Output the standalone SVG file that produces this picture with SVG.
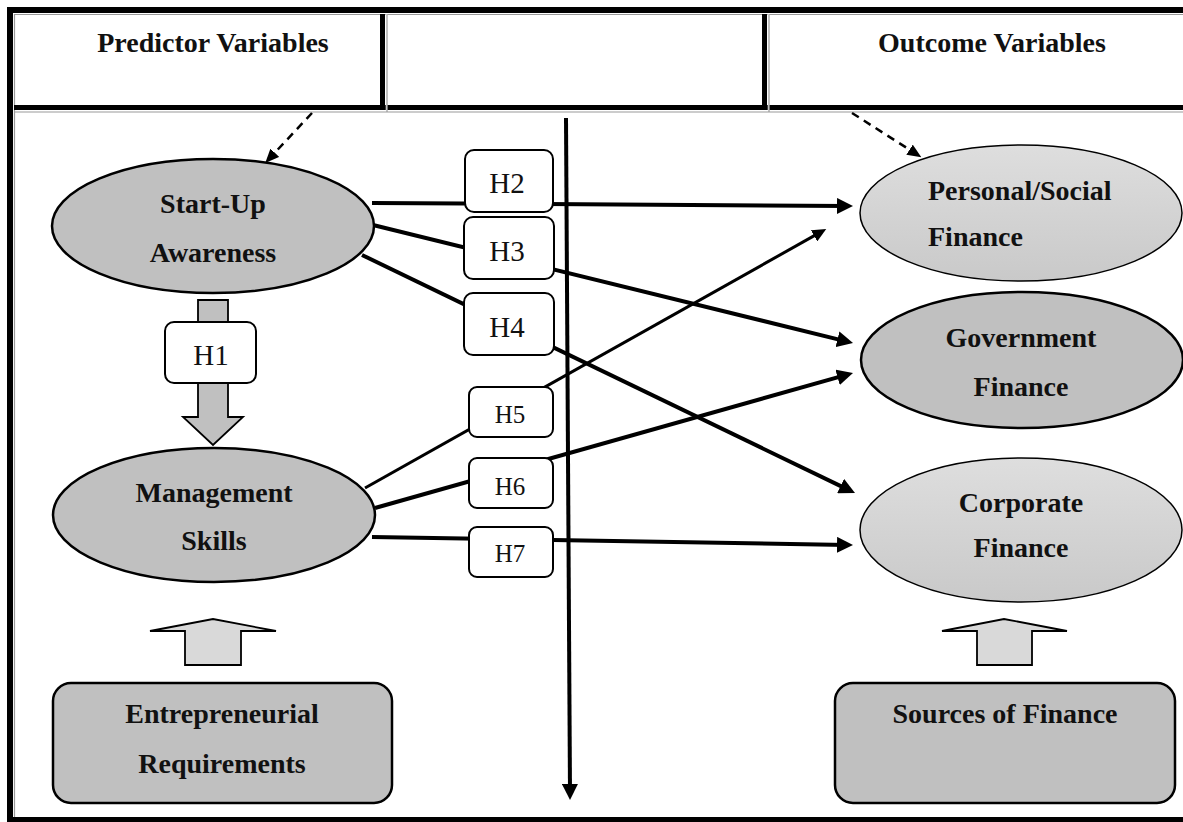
<svg xmlns="http://www.w3.org/2000/svg" width="1183" height="822" viewBox="0 0 1183 822">
  <style>
    .lbl { font-family: "Liberation Serif", "Times New Roman", serif; font-weight: bold; font-size: 28px; fill: #111; }
    .hyp { font-family: "Liberation Serif", "Times New Roman", serif; font-size: 29px; fill: #111; text-anchor: middle; }
    .hyp-s { font-family: "Liberation Serif", "Times New Roman", serif; font-size: 25px; fill: #111; text-anchor: middle; }
    .mid { text-anchor: middle; }
    .dark { fill: #c0c0c0; stroke: #000; stroke-width: 2.5; }
    .light { fill: url(#lightFill); stroke: #000; stroke-width: 1.5; }
    .hbox { fill: #fff; stroke: #000; stroke-width: 2; }
    .link { stroke: #000; stroke-width: 4; fill: none; marker-end: url(#head); }
    .link-thin { stroke: #000; stroke-width: 3; fill: none; marker-end: url(#headSmall); }
    .dash { stroke: #000; stroke-width: 2.5; fill: none; stroke-dasharray: 8 6; marker-end: url(#headDash); }
    .bar { fill: #000; }
    .rule { stroke: #999; stroke-width: 1.2; }
    .block { stroke: #000; stroke-width: 1.8; stroke-linejoin: miter; }
  </style>
  <defs>
    <linearGradient id="lightFill" x1="0" y1="0" x2="0" y2="1">
      <stop offset="0" stop-color="#dedede"/>
      <stop offset="1" stop-color="#c9c9c9"/>
    </linearGradient>
    <marker id="head" markerUnits="userSpaceOnUse" markerWidth="16" markerHeight="16" refX="10" refY="8" orient="auto">
      <path d="M0,0 L16,8 L0,16 z" fill="#000"/>
    </marker>
    <marker id="headSmall" markerUnits="userSpaceOnUse" markerWidth="14" markerHeight="13" refX="8" refY="6.5" orient="auto">
      <path d="M0,0 L14,6.5 L0,13 z" fill="#000"/>
    </marker>
    <marker id="headDash" markerUnits="userSpaceOnUse" markerWidth="14" markerHeight="12" refX="6" refY="6" orient="auto">
      <path d="M0,0 L14,6 L0,12 z" fill="#000"/>
    </marker>
  </defs>

  <rect x="0" y="0" width="1183" height="822" fill="#fff"/>

  <!-- frame and header table -->
  <g id="frame">
    <rect class="bar" x="7" y="7" width="1176" height="6"/>
    <rect class="bar" x="7" y="7" width="6" height="815"/>
    <rect class="bar" x="7" y="817" width="1176" height="5"/>
    <line class="rule" x1="14" y1="14.5" x2="1183" y2="14.5"/>
    <line class="rule" x1="14.5" y1="14" x2="14.5" y2="817"/>
    <rect class="bar" x="14" y="105" width="1169" height="5"/>
    <rect class="bar" x="380" y="14" width="5" height="96"/>
    <rect class="bar" x="762" y="14" width="5" height="96"/>
    <line x1="386.5" y1="14" x2="386.5" y2="112" stroke="#fff" stroke-width="1.5"/>
    <line class="rule" x1="387" y1="14" x2="387" y2="112"/>
    <line x1="768.5" y1="14" x2="768.5" y2="112" stroke="#fff" stroke-width="1.5"/>
    <line class="rule" x1="769" y1="14" x2="769" y2="112"/>
    <line class="rule" x1="14" y1="112" x2="1183" y2="112"/>
  </g>

  <g id="header-predictor">
    <text class="lbl mid" x="213" y="52">Predictor Variables</text>
  </g>
  <g id="header-middle"></g>
  <g id="header-outcome">
    <text class="lbl mid" x="992" y="52">Outcome Variables</text>
  </g>

  <!-- connectors -->
  <g id="connectors">
    <line class="dash" x1="312" y1="113" x2="270.7" y2="157.1"/>
    <line class="dash" x1="852" y1="113" x2="914.6" y2="152.9"/>
    <line class="link" x1="566" y1="118" x2="570" y2="794"/>
    <line class="link" x1="372" y1="203" x2="847" y2="206"/>
    <line class="link" x1="373" y1="225" x2="847.2" y2="341.6"/>
    <line class="link" x1="362" y1="255" x2="849.6" y2="490.4"/>
    <line class="link-thin" x1="365" y1="488" x2="821" y2="231.9"/>
    <line class="link" x1="375" y1="508" x2="847.2" y2="374.6"/>
    <line class="link" x1="372" y1="537" x2="847" y2="545"/>
    <!-- H1 block arrow -->
    <path class="block" fill="#c0c0c0" d="M198,300 L228,300 L228,417 L243,417 L213,445 L183,417 L198,417 z"/>
    <!-- upward block arrows -->
    <path class="block" fill="#d9d9d9" d="M185,665 L241,665 L241,631 L276,631 L213,619 L150,631 L185,631 z"/>
    <path class="block" fill="#d9d9d9" d="M977,665 L1032,665 L1032,631 L1067,631 L1004,619 L942,631 L977,631 z"/>
  </g>

  <!-- hypothesis labels -->
  <g id="h1"><rect class="hbox" x="165" y="322" width="91" height="61" rx="9"/><text class="hyp" x="211" y="365">H1</text></g>
  <g id="h2"><rect class="hbox" x="465" y="150" width="88" height="62" rx="9"/><text class="hyp" x="507" y="193">H2</text></g>
  <g id="h3"><rect class="hbox" x="464" y="217" width="90" height="62" rx="9"/><text class="hyp" x="507" y="261">H3</text></g>
  <g id="h4"><rect class="hbox" x="464" y="293" width="90" height="62" rx="9"/><text class="hyp" x="507" y="337">H4</text></g>
  <g id="h5"><rect class="hbox" x="469" y="387" width="84" height="50" rx="8"/><text class="hyp-s" x="510" y="423">H5</text></g>
  <g id="h6"><rect class="hbox" x="469" y="458" width="84" height="50" rx="8"/><text class="hyp-s" x="510" y="495">H6</text></g>
  <g id="h7"><rect class="hbox" x="469" y="527" width="84" height="50" rx="8"/><text class="hyp-s" x="510" y="562">H7</text></g>

  <!-- predictor nodes -->
  <g id="startup-awareness">
    <ellipse class="dark" cx="213" cy="226" rx="161" ry="67"/>
    <text class="lbl mid" x="213" y="213">Start-Up</text>
    <text class="lbl mid" x="213" y="262">Awareness</text>
  </g>
  <g id="management-skills">
    <ellipse class="dark" cx="214" cy="515" rx="161" ry="67"/>
    <text class="lbl mid" x="214" y="502">Management</text>
    <text class="lbl mid" x="214" y="550">Skills</text>
  </g>

  <!-- outcome nodes -->
  <g id="personal-social-finance">
    <ellipse class="light" cx="1021" cy="213" rx="161" ry="68"/>
    <text class="lbl" x="928" y="200">Personal/Social</text>
    <text class="lbl" x="928" y="246">Finance</text>
  </g>
  <g id="government-finance">
    <ellipse class="dark" cx="1022" cy="360" rx="161" ry="68"/>
    <text class="lbl mid" x="1021" y="347">Government</text>
    <text class="lbl mid" x="1021" y="396">Finance</text>
  </g>
  <g id="corporate-finance">
    <ellipse class="light" cx="1021" cy="530" rx="161" ry="72"/>
    <text class="lbl mid" x="1021" y="512">Corporate</text>
    <text class="lbl mid" x="1021" y="557">Finance</text>
  </g>

  <!-- grouping boxes -->
  <g id="entrepreneurial-requirements">
    <rect class="dark" x="53" y="683" width="339" height="120" rx="18" stroke-width="2"/>
    <text class="lbl mid" x="222" y="723">Entrepreneurial</text>
    <text class="lbl mid" x="222" y="773">Requirements</text>
  </g>
  <g id="sources-of-finance">
    <rect class="dark" x="835" y="683" width="340" height="120" rx="18" stroke-width="2"/>
    <text class="lbl mid" x="1005" y="723">Sources of Finance</text>
  </g>
</svg>
